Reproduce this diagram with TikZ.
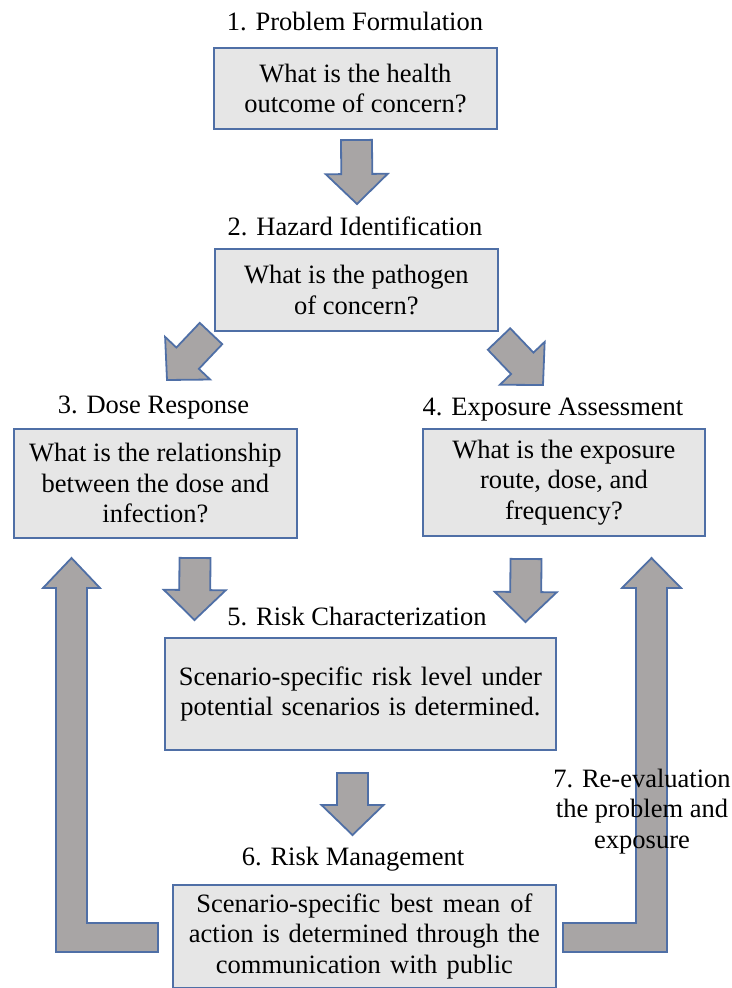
\documentclass[tikz,border=0pt]{standalone}
\usepackage{fontspec}
\setmainfont{Liberation Serif}
\usetikzlibrary{calc}

\definecolor{boxfill}{HTML}{E6E6E6}
\definecolor{edgeblue}{HTML}{4F6FA6}
\definecolor{arrowfill}{HTML}{A8A5A5}

% block arrow from a base coordinate to a tip coordinate
\newcommand\blockarrow[2]{%
  \path (#1) coordinate (ba-s) (#2) coordinate (ba-t);
  \path ($(ba-t)!30pt!(ba-s)$) coordinate (ba-h);
  \draw[arrowbody]
    ($(ba-s)!15.5pt!90:(ba-t)$) -- ($(ba-h)!15.5pt!90:(ba-t)$) --
    ($(ba-h)!31pt!90:(ba-t)$) -- (ba-t) --
    ($(ba-h)!31pt!-90:(ba-t)$) -- ($(ba-h)!15.5pt!-90:(ba-t)$) --
    ($(ba-s)!15.5pt!-90:(ba-t)$) -- cycle;}

\tikzset{
  txt/.style={font=\fontsize{26.5}{30.5}\selectfont},
  box/.style={txt, draw=edgeblue, fill=boxfill, line width=1.8pt,
    inner sep=0pt, align=center, anchor=north west},
  title/.style={txt, anchor=base, inner sep=0pt},
  arrowbody/.style={draw=edgeblue, fill=arrowfill, line width=1.8pt}
}

\begin{document}
\begin{tikzpicture}[x=1pt, y=-1pt]
\useasboundingbox (0,0) rectangle (731,988);

% boxes
\node[box, minimum width=283, minimum height=81] (box1) at (213,47)
  {What is the health\\outcome of concern?};
\node[box, minimum width=283, minimum height=82] (box2) at (214,248)
  {What is the pathogen\\of concern?};
\node[box, minimum width=283, minimum height=109] (box3) at (13,428)
  {What is the relationship\\between the dose and\\infection?};
\node[box, minimum width=282, minimum height=107] (box4) at (422,428)
  {What is the exposure\\route, dose, and\\frequency?};
\node[box, minimum width=391, minimum height=112] (box5) at (164,637)
  {\makebox[363pt][s]{Scenario-specific risk level under}\\
   \makebox[360pt][s]{potential scenarios is determined.}};
\node[box, minimum width=383, minimum height=103] (box6) at (172,884)
  {\makebox[336pt][s]{Scenario-specific best mean of}\\
   \makebox[351pt][s]{action is determined through the}\\
   \makebox[297pt][s]{communication with public}};

% titles
\node[title] (t1) at (355,30) {1. Problem Formulation};
\node[title] (t2) at (355,235) {2. Hazard Identification};
\node[title] (t3) at (153.5,413) {3. Dose Response};
\node[title] (t4) at (553,415) {4. Exposure Assessment};
\node[title] (t5) at (357,625) {5. Risk Characterization};
\node[title] (t6) at (353,865) {6. Risk Management};

% arrow end points
\coordinate (a1s) at (356.5,140); \coordinate (a1t) at (357,204);
\coordinate (a2s) at (211,333.5); \coordinate (a2t) at (167,380);
\coordinate (a3s) at (499,339);   \coordinate (a3t) at (543,385);
\coordinate (a4s) at (195,558);   \coordinate (a4t) at (194.5,620);
\coordinate (a5s) at (526,559);   \coordinate (a5t) at (525.5,622);
\coordinate (a6s) at (352.5,773); \coordinate (a6t) at (352.5,835);

\blockarrow{a1s}{a1t}
\blockarrow{a2s}{a2t}
\blockarrow{a3s}{a3t}
\blockarrow{a4s}{a4t}
\blockarrow{a5s}{a5t}
\blockarrow{a6s}{a6t}

% feedback arrows from risk management back to steps 3 and 4
\draw[arrowbody] (158,923) -- (87,923) -- (87,588) -- (100,588) -- (71.5,558)
  -- (43,588) -- (56,588) -- (56,952) -- (158,952) -- cycle;
\draw[arrowbody] (563,923) -- (636,923) -- (636,588) -- (622,588) -- (651.5,558)
  -- (681,588) -- (667,588) -- (667,952) -- (563,952) -- cycle;

% the base anchor of this three-line node sits on its last line
\node[title, align=center] (t7) at (642,848)
  {7. Re-evaluation\\the problem and\\exposure};
\end{tikzpicture}
\end{document}
